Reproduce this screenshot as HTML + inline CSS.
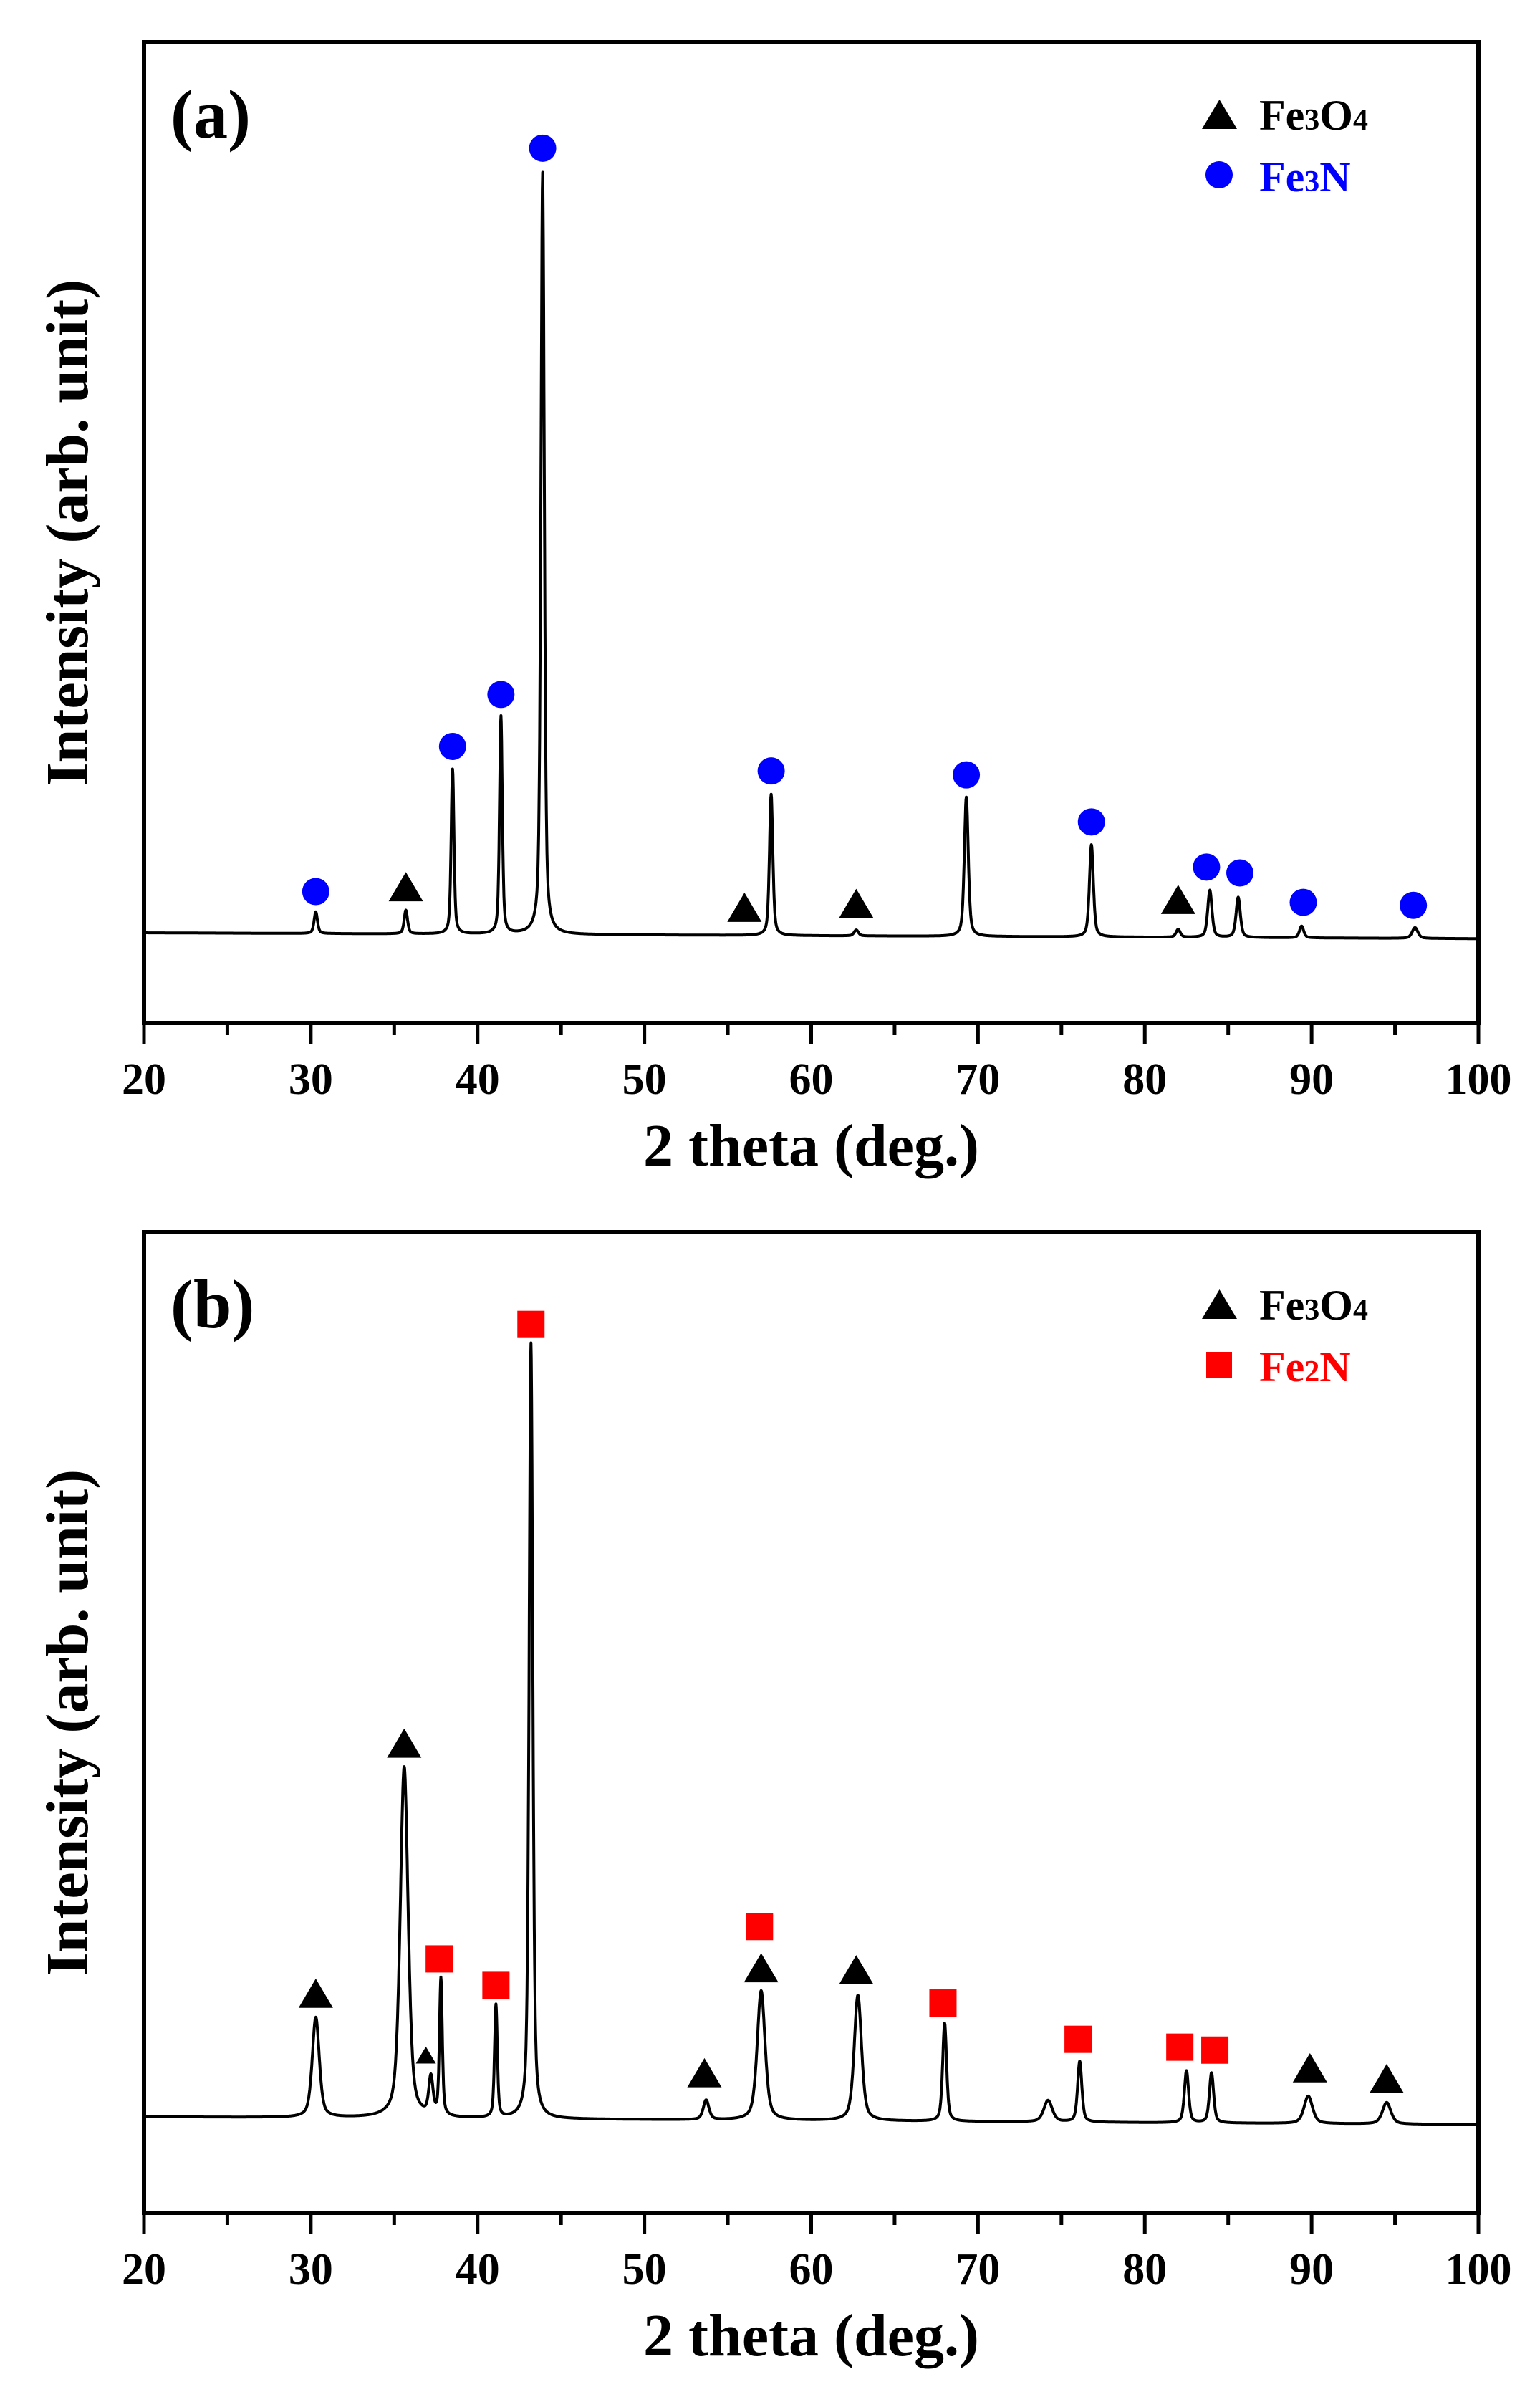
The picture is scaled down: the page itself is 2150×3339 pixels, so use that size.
<!DOCTYPE html>
<html><head><meta charset="utf-8">
<style>
html,body{margin:0;padding:0;background:#fff;}
svg{display:block;}
text{font-family:"Liberation Serif",serif;font-weight:bold;}
</style></head>
<body>
<svg id="fig" width="2150" height="3339" viewBox="0 0 2150 3339" xmlns="http://www.w3.org/2000/svg"></svg>
<script>
// ---- Panel (a) data ----
const aPeakPos = [30.3, 35.7, 38.5, 41.4, 43.9, 57.6, 62.7, 69.3, 76.8, 82.0, 83.9, 85.6, 89.4, 96.2];
const aPeakHeight = [22, 24, 168, 222, 777, 144, 6, 142, 94, 8, 48, 41, 12, 11];
const aPeakWidth = [0.12, 0.12, 0.1, 0.1, 0.12, 0.12, 0.15, 0.14, 0.14, 0.15, 0.15, 0.15, 0.15, 0.2];
const aBaseline = [92, 86];
const aCircleX = [30.3, 38.5, 41.4, 43.9, 57.6, 69.3, 76.8, 83.7, 85.7, 89.5, 96.1];
const aCircleY = [134, 282, 335, 892, 257, 253, 205, 159, 153, 123, 120];
const aTriX = [35.7, 56.0, 62.7, 82.0];
const aTriY = [139, 118, 122, 126];
// ---- Panel (b) data ----
const bPeakPos = [30.3, 35.6, 37.2, 37.8, 41.1, 43.2, 53.7, 57.0, 62.8, 68.0, 74.2, 76.1, 82.5, 84.0, 89.8, 94.5];
const bPeakHeight = [102, 358, 38, 140, 115, 791, 20, 132, 128, 100, 22, 62, 53, 51, 28, 22];
const bPeakWidth = [0.25, 0.28, 0.15, 0.1, 0.1, 0.13, 0.2, 0.28, 0.26, 0.14, 0.3, 0.15, 0.15, 0.15, 0.3, 0.3];
const bBaseline = [98, 90];
const bSquareX = [37.7, 41.1, 43.2, 56.9, 67.9, 76.0, 82.1, 84.2];
const bSquareY = [259, 232, 906, 292, 214, 177, 169, 166];
const bTriX = [30.3, 35.6, 53.6, 57.0, 62.7, 89.9, 94.5];
const bTriY = [224, 479, 143, 250, 248, 148, 137];
const bSmallTriX = [36.9];
const bSmallTriY = [161];
const xTicks = [20, 30, 40, 50, 60, 70, 80, 90, 100];
const xMinorTicks = [25, 35, 45, 55, 65, 75, 85, 95];

const NS = "http://www.w3.org/2000/svg";
const svg = document.getElementById('fig');
const L = 201, R = 2064, X0 = 20, X1 = 100, H = 1369;
function mk(tag, attrs, parent) {
  const e = document.createElementNS(NS, tag);
  for (const k in attrs) e.setAttribute(k, attrs[k]);
  parent.appendChild(e);
  return e;
}
function xs(v) { return L + (v - X0) / (X1 - X0) * (R - L); }

function panel(id, top, label, pos, hgt, wid, base, mk2name, color, m1x, m1y, markerType, triX, triY, smX, smY) {
  const bottom = top + H;
  const ys = v => bottom - v / 1000 * H;
  const g = mk('g', {}, svg);
  
  
  let d = '';
  for (let i = 0; i <= 4000; i++) {
    const x = X0 + i * 0.02;
    let y = base[0] + (base[1] - base[0]) * (x - X0) / (X1 - X0);
    for (let k = 0; k < pos.length; k++) {
      const t = (x - pos[k]) / wid[k];
      y += hgt[k] * (0.5 / (1 + t * t) + 0.5 * Math.exp(-0.693 * t * t));
    }
    d += (i ? 'L' : 'M') + xs(x).toFixed(1) + ' ' + ys(y).toFixed(1);
  }
  const line = mk('path', {d: d, fill: 'none', stroke: '#000', 'stroke-width': 4, 'stroke-linejoin': 'round'}, g);
  
  
  for (let i = 0; i < m1x.length; i++) {
    const cx = xs(m1x[i]), cy = ys(m1y[i]);
    let m;
    if (markerType === 'circle') m = mk('circle', {cx: cx, cy: cy, r: 19, fill: color}, g);
    else m = mk('rect', {x: cx - 19, y: cy - 19, width: 38, height: 38, fill: color}, g);
    
    
  }
  function tri(cx, cy, s) {
    const t = mk('polygon', {points: (cx - s) + ',' + (cy + s * 0.85) + ' ' + (cx + s) + ',' + (cy + s * 0.85) + ' ' + cx + ',' + (cy - s * 0.85), fill: '#000'}, g);
    
    
  }
  for (let i = 0; i < triX.length; i++) tri(xs(triX[i]), ys(triY[i]), 24);
  for (let i = 0; i < smX.length; i++) tri(xs(smX[i]), ys(smY[i]), 14);
  const fr = mk('rect', {x: L, y: top, width: R - L, height: H, fill: 'none', stroke: '#000', 'stroke-width': 6}, g);
  
  
  for (const t of xTicks) {
    const tk = mk('line', {x1: xs(t), x2: xs(t), y1: bottom, y2: bottom + 30, stroke: '#000', 'stroke-width': 5}, g);
    
    
    const tl = mk('text', {x: xs(t), y: bottom + 99, 'text-anchor': 'middle', 'font-size': 62}, g);
    tl.textContent = t;
    
    
  }
  for (const t of xMinorTicks) {
    const tk = mk('line', {x1: xs(t), x2: xs(t), y1: bottom, y2: bottom + 17, stroke: '#000', 'stroke-width': 5}, g);
    
    
  }
  const xt = mk('text', {x: (L + R) / 2, y: bottom + 199, 'text-anchor': 'middle', 'font-size': 84}, g);
  xt.textContent = '2 theta (deg.)';
  
  
  const yt = mk('text', {x: 0, y: 0, 'text-anchor': 'middle', 'font-size': 84, transform: 'translate(122,' + (top + H / 2) + ') rotate(-90)'}, g);
  yt.textContent = 'Intensity (arb. unit)';
  
  
  const pl = mk('text', {x: 238, y: top + 133, 'font-size': 96}, g);
  pl.textContent = label;
  
  
  const lg = mk('g', {}, g);
  
  
  const lt = mk('polygon', {points: '1678,' + (top + 121) + ' 1727,' + (top + 121) + ' 1702.5,' + (top + 80), fill: '#000'}, lg);
  
  
  const t1 = mk('text', {x: 1758, y: top + 122, 'font-size': 60}, lg);
  t1.innerHTML = 'Fe<tspan font-size="42">3</tspan>O<tspan font-size="42">4</tspan>';
  
  
  let s2;
  if (markerType === 'circle') s2 = mk('circle', {cx: 1702, cy: top + 185, r: 19, fill: color}, lg);
  else s2 = mk('rect', {x: 1684, y: top + 167, width: 36, height: 36, fill: color}, lg);
  
  
  const t2 = mk('text', {x: 1758, y: top + 208, 'font-size': 60, fill: color}, lg);
  t2.innerHTML = (mk2name === 'fe3n' ? 'Fe<tspan font-size="42">3</tspan>N' : 'Fe<tspan font-size="42">2</tspan>N');
  
  
}
panel('a', 59, '(a)', aPeakPos, aPeakHeight, aPeakWidth, aBaseline, 'fe3n', '#0000ff', aCircleX, aCircleY, 'circle', aTriX, aTriY, [], []);
panel('b', 1720, '(b)', bPeakPos, bPeakHeight, bPeakWidth, bBaseline, 'fe2n', '#ff0000', bSquareX, bSquareY, 'square', bTriX, bTriY, bSmallTriX, bSmallTriY);
</script>
</body></html>
